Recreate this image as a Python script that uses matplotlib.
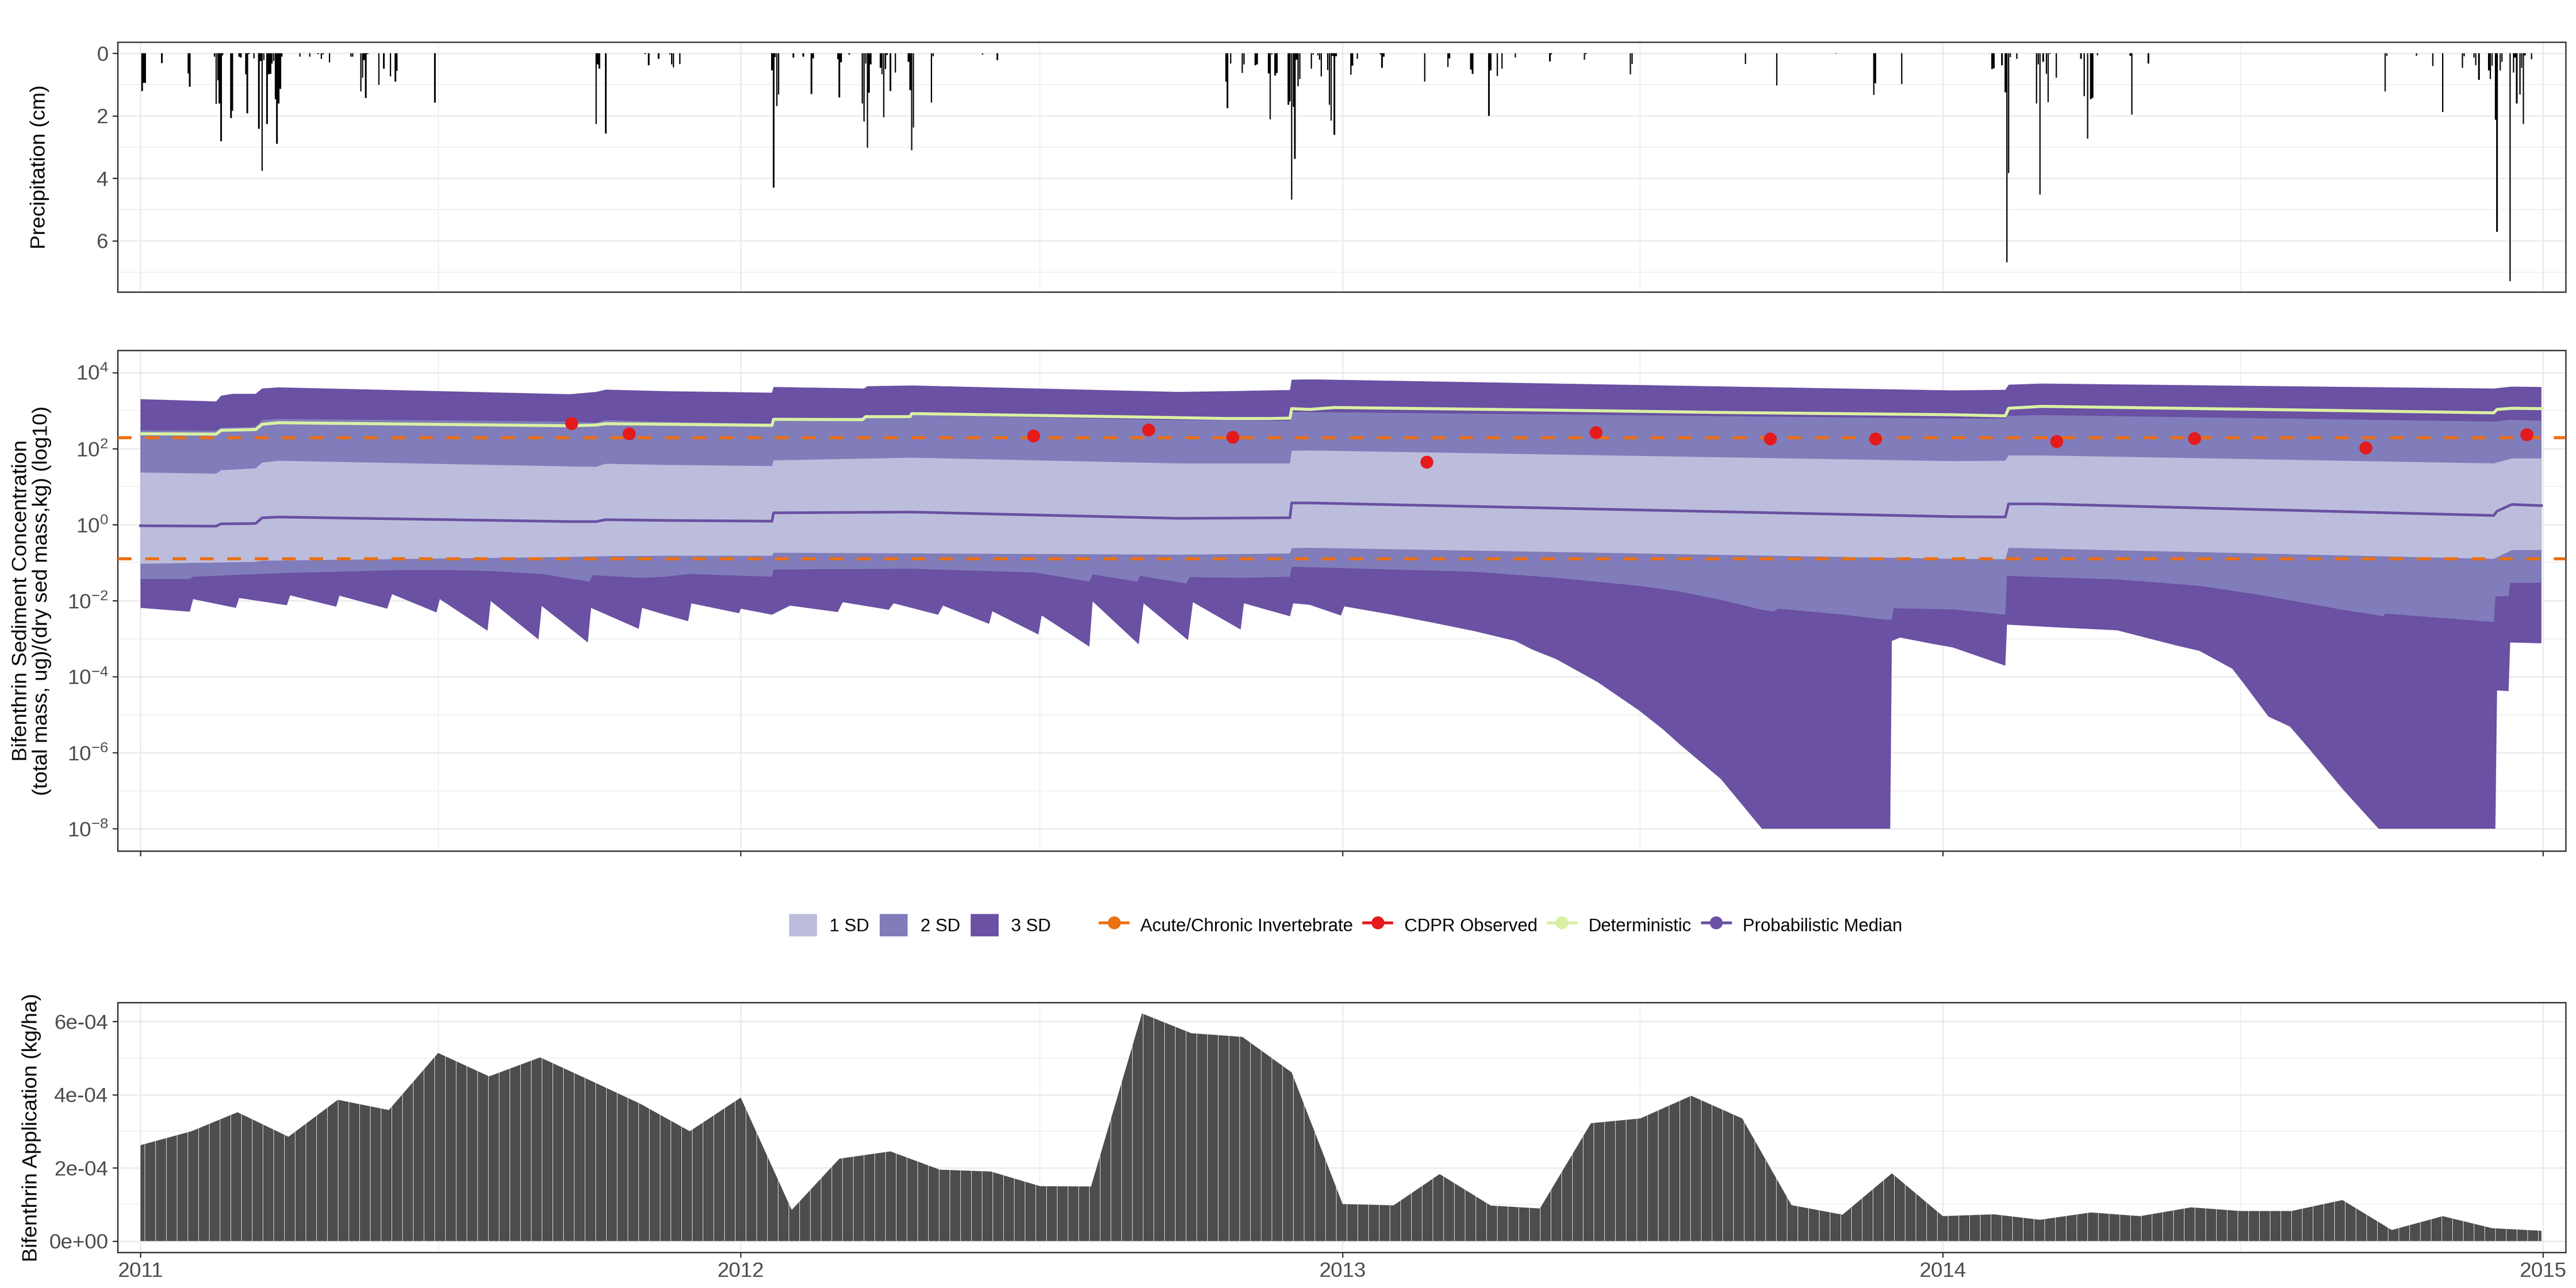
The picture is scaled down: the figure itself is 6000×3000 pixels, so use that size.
import numpy as np
import pandas as pd
import matplotlib
matplotlib.use('Agg')
import matplotlib.pyplot as plt
import matplotlib.dates as mdates
from matplotlib.lines import Line2D
from matplotlib.patches import Patch
from matplotlib.ticker import FixedLocator, FuncFormatter, NullFormatter

plt.rcParams['font.family'] = ['Liberation Sans', 'DejaVu Sans']
plt.rcParams['mathtext.default'] = 'regular'
plt.rcParams['hatch.linewidth'] = 0.25

START = pd.Timestamp('2011-01-01')

# ---- daily precipitation (day offset from 2011-01-01, cm) ----
precip_day = [1, 2, 3, 13, 29, 30, 45, 46, 47, 48, 49, 50, 55, 56, 60, 61, 64, 65, 66, 69,
              72, 73, 74, 75, 77, 78, 79, 80, 81, 82, 83, 84, 85, 86, 97, 103, 108, 110, 111,
              115, 128, 129, 134, 135, 136, 137, 138, 145, 148, 152, 155, 156, 179,
              277, 278, 279, 283, 307, 309, 315, 322, 323, 324, 328, 384, 385, 386, 387, 388,
              397, 403, 408, 409, 424, 425, 426, 431, 439, 440, 441, 442, 443, 444, 450, 451,
              452, 453, 454, 456, 459, 467, 468, 469, 470, 481, 482, 512, 521,
              660, 661, 663, 670, 671, 678, 679, 686, 687, 688, 690, 691, 698, 699, 700, 701,
              702, 703, 704, 705, 712, 713, 716, 717, 718, 722, 723, 724, 725, 726, 727, 736,
              737, 740, 754, 755, 756, 781, 795, 796, 809, 810, 820, 821, 825, 828, 836, 857,
              858, 878, 879,
              906, 907, 976, 995, 1031, 1054, 1055, 1071, 1126, 1127, 1132, 1134, 1135, 1136,
              1137, 1141, 1153, 1154, 1155, 1157, 1159, 1160, 1161, 1165, 1180, 1182, 1184,
              1186, 1187, 1190, 1210, 1211, 1221, 1365, 1366, 1384, 1394, 1400, 1412, 1413,
              1419, 1420, 1422, 1428, 1429, 1430, 1432, 1433, 1435, 1436, 1441, 1443, 1444,
              1445, 1447, 1448, 1449, 1450, 1454]
precip_cm = [1.20, 0.95, 0.95, 0.31, 0.64, 1.07, 0.11, 1.62, 0.86, 1.60, 2.82, 0.06, 2.07, 1.84,
             0.11, 0.14, 0.67, 1.92, 0.03, 0.16,
             2.42, 0.25, 3.76, 0.22, 2.27, 0.67, 0.66, 0.32, 0.25, 1.47, 2.90, 1.60, 1.14, 0.11,
             0.11, 0.11, 0.03, 0.17, 0.04,
             0.29, 0.10, 0.10, 1.22, 0.78, 0.22, 1.42, 0.03, 1.01, 0.49, 0.74, 0.91, 0.56, 1.57,
             2.26, 0.36, 0.49, 2.56, 0.03, 0.38, 0.18, 0.04, 0.35, 0.45, 0.34, 0.54, 4.30, 0.12,
             1.69, 1.32,
             0.14, 0.10, 1.30, 0.16, 0.19, 1.41, 0.28, 0.04, 1.60, 2.18, 0.33, 3.02, 1.26, 0.35,
             0.46, 0.67,
             2.04, 0.51, 0.05, 1.21, 0.62, 0.27, 1.18, 3.10, 2.38, 1.57, 0.09, 0.04, 0.22,
             0.91, 1.75, 0.32, 0.63, 0.35, 0.38, 0.35, 0.64, 2.11, 0.04, 0.71, 0.63, 1.65, 1.53,
             4.68, 1.71,
             3.38, 0.20, 1.05, 0.82, 0.49, 0.04, 0.06, 0.20, 0.74, 0.53, 1.65, 2.16, 0.08, 2.61,
             0.09, 0.68,
             0.39, 0.17, 0.04, 0.46, 0.11, 0.90, 0.43, 0.16, 0.52, 0.66, 2.00, 0.55, 0.72, 0.49,
             0.13, 0.26,
             0.04, 0.20, 0.03,
             0.67, 0.34, 0.34, 1.03, 0.01, 1.33, 0.96, 0.99, 0.50, 0.48, 0.38, 1.25, 6.69, 3.83,
             0.12, 0.18, 1.60, 0.35, 4.52, 0.27, 0.65, 1.56, 0.03, 0.78, 0.18, 1.37, 2.73,
             1.47, 1.43, 0.06, 0.08, 1.96, 0.33, 1.22, 0.08, 0.08, 0.41, 1.88, 0.47, 0.09,
             0.14, 0.38, 0.85, 0.55, 0.82, 0.40, 2.13, 5.72, 0.54, 0.27, 7.29, 0.61, 0.14,
             1.60, 1.32, 0.47, 2.26, 0.06, 0.19]

# ---- sediment concentration bands (day offset, log10 concentration) ----
sd3_upper_day = [0, 46, 49, 56, 70, 74, 84, 261, 277, 283, 319, 384, 385, 440, 442, 469, 631,
                 661, 699, 700, 712, 1102, 1134, 1136, 1156, 1431, 1442, 1460]
sd3_upper_log = [3.30, 3.24, 3.39, 3.44, 3.44, 3.58, 3.61, 3.43, 3.49, 3.55, 3.51, 3.47, 3.62,
                 3.58, 3.64, 3.66, 3.49, 3.51, 3.54, 3.81, 3.82, 3.53, 3.545, 3.68, 3.71, 3.58,
                 3.63, 3.62]
sd2_upper_day = [0, 46, 49, 70, 74, 84, 261, 277, 283, 319, 384, 385, 440, 469, 631, 699, 700,
                 711, 1102, 1134, 1136, 1156, 1431, 1442, 1460]
sd2_upper_log = [2.48, 2.47, 2.55, 2.57, 2.75, 2.78, 2.71, 2.68, 2.75, 2.70, 2.66, 2.79, 2.82,
                 2.88, 2.75, 2.73, 2.96, 2.96, 2.79, 2.79, 2.86, 2.88, 2.71, 2.76, 2.73]
sd1_upper_day = [0, 46, 49, 70, 74, 84, 261, 277, 283, 319, 384, 385, 469, 631, 699, 700, 711,
                 1102, 1134, 1136, 1156, 1431, 1442, 1460]
sd1_upper_log = [1.37, 1.34, 1.43, 1.48, 1.63, 1.68, 1.53, 1.52, 1.60, 1.57, 1.54, 1.69, 1.76,
                 1.61, 1.61, 1.94, 1.95, 1.67, 1.68, 1.82, 1.82, 1.61, 1.74, 1.74]
sd1_lower_day = [0, 70, 74, 261, 283, 319, 384, 385, 631, 699, 700, 711, 1102, 1134, 1136,
                 1431, 1442, 1460]
sd1_lower_log = [-1.03, -0.98, -0.95, -0.85, -0.83, -0.82, -0.82, -0.74, -0.79, -0.76, -0.62,
                 -0.61, -0.90, -0.91, -0.61, -0.90, -0.67, -0.67]
sd2_lower_day = [0, 30, 32, 60, 90, 120, 153, 182, 212, 244, 273, 275, 304, 319, 334, 384, 385,
                 469, 544, 577, 579, 606, 608, 636, 638, 669, 699, 700, 711, 811, 861, 911, 936,
                 961, 986, 993, 996, 1036, 1061, 1065, 1066, 1102, 1134, 1135, 1202, 1252, 1289,
                 1339, 1364, 1365, 1431, 1432, 1440, 1441, 1460]
sd2_lower_log = [-1.43, -1.43, -1.37, -1.32, -1.27, -1.24, -1.20, -1.19, -1.22, -1.30, -1.50,
                 -1.33, -1.40, -1.37, -1.30, -1.37, -1.18, -1.16, -1.26, -1.50, -1.31, -1.50,
                 -1.35, -1.55, -1.38, -1.40, -1.37, -1.11, -1.12, -1.24, -1.40, -1.61, -1.76,
                 -1.98, -2.24, -2.28, -2.21, -2.37, -2.50, -2.50, -2.20, -2.23, -2.37, -1.35,
                 -1.44, -1.61, -1.85, -2.24, -2.41, -2.34, -2.56, -1.89, -1.88, -1.53, -1.53]
sd3_lower_day = [0, 30, 32, 58, 60, 89, 91, 119, 121, 150, 153, 180, 182, 211, 213, 242, 244,
                 272, 274, 303, 305, 319, 333, 335, 364, 365, 384, 395, 424, 427, 455, 458, 485,
                 488, 516, 518, 546, 548, 577, 579, 607, 610, 637, 640, 669, 671, 699, 701, 711,
                 730, 732, 761, 786, 811, 836, 846, 861, 886, 911, 926, 936, 961, 986, 1064,
                 1065, 1070, 1089, 1102, 1134, 1135, 1164, 1202, 1219, 1239, 1252, 1272, 1279,
                 1294, 1307, 1319, 1339, 1361, 1432, 1433, 1440, 1441, 1460]
sd3_lower_log = [-2.19, -2.29, -1.96, -2.19, -1.93, -2.12, -1.86, -2.16, -1.87, -2.21, -1.83,
                 -2.31, -1.96, -2.79, -2.01, -3.02, -2.14, -3.10, -2.19, -2.74, -2.19, -2.37,
                 -2.54, -2.07, -2.33, -2.21, -2.37, -2.13, -2.30, -2.04, -2.24, -2.07, -2.37,
                 -2.13, -2.61, -2.28, -2.89, -2.39, -3.21, -2.02, -3.15, -2.07, -3.04, -2.04,
                 -2.76, -2.07, -2.41, -2.07, -2.11, -2.39, -2.15, -2.37, -2.58, -2.80, -3.06,
                 -3.28, -3.54, -4.14, -4.88, -5.39, -5.78, -6.69, -8.0, -8.0, -3.06, -2.97,
                 -3.13, -3.23, -3.71, -2.63, -2.70, -2.78, -2.97, -3.19, -3.32, -3.79, -4.18,
                 -5.05, -5.31, -5.91, -6.95, -8.0, -8.0, -4.36, -4.38, -3.10, -3.12]

median_day = [0, 46, 49, 70, 74, 84, 261, 277, 283, 319, 384, 385, 469, 631, 699, 700, 711,
              1102, 1134, 1136, 1156, 1431, 1433, 1442, 1460]
median_log = [-0.03, -0.04, 0.02, 0.03, 0.18, 0.20, 0.08, 0.08, 0.13, 0.11, 0.09, 0.31, 0.33,
              0.165, 0.18, 0.57, 0.57, 0.21, 0.20, 0.545, 0.545, 0.24, 0.355, 0.53, 0.50]
determ_day = [0, 46, 49, 70, 74, 84, 261, 277, 283, 319, 384, 385, 439, 441, 468, 469, 594,
              661, 686, 699, 700, 711, 726, 861, 961, 1102, 1134, 1136, 1156, 1289, 1431, 1433,
              1442, 1460]
determ_log = [2.39, 2.38, 2.48, 2.50, 2.64, 2.68, 2.60, 2.62, 2.655, 2.64, 2.61, 2.77, 2.76,
              2.84, 2.84, 2.92, 2.84, 2.79, 2.79, 2.80, 3.05, 3.03, 3.08, 3.01, 2.95, 2.89, 2.86,
              3.06, 3.11, 3.03, 2.94, 3.03, 3.06, 3.05]

obs_dates = ['2011-09-20', '2011-10-25', '2012-06-27', '2012-09-05', '2012-10-26',
             '2013-02-21', '2013-06-04', '2013-09-18', '2013-11-21', '2014-03-11',
             '2014-06-03', '2014-09-15', '2014-12-22']
obs_values = [462, 245, 219, 309, 200, 45, 269, 182, 182, 155, 186, 105, 234]

invert_thresholds = [195, 0.127]

# ---- monthly bifenthrin application (kg/ha) ----
app_dates = list(pd.date_range('2011-01-01', '2014-12-01', freq='MS')) + [pd.Timestamp('2014-12-31')]
app_kg_ha = [2.62, 3.00, 3.52, 2.85, 3.86, 3.58, 5.14, 4.50, 5.02, 4.40, 3.75, 3.00,
             3.92, 0.85, 2.25, 2.45, 1.95, 1.90, 1.50, 1.49, 6.22, 5.68, 5.58, 4.61,
             1.01, 0.975, 1.83, 0.97, 0.89, 3.22, 3.35, 3.97, 3.35, 0.98, 0.72, 1.85,
             0.68, 0.73, 0.58, 0.78, 0.68, 0.92, 0.82, 0.82, 1.12, 0.30, 0.68, 0.35, 0.28]
app_kg_ha = [v * 1e-4 for v in app_kg_ha]

C_SD1, C_SD2, C_SD3 = '#BCBDDC', '#807DBA', '#6A51A3'
C_DET, C_OBS, C_THR = '#D9F0A3', '#E41A1C', '#EC7014'
TICK_COL, BORDER_COL, GRID_COL = '#4D4D4D', '#333333', '#EBEBEB'


def days_to_num(days):
    return mdates.date2num(START + pd.to_timedelta(np.asarray(days, dtype=float), unit='D'))


def style_panel(ax):
    for s in ax.spines.values():
        s.set_color(BORDER_COL)
        s.set_linewidth(0.75)
    ax.grid(which='major', color=GRID_COL, linewidth=0.8)
    ax.grid(which='minor', color=GRID_COL, linewidth=0.4)
    ax.set_axisbelow(True)
    ax.tick_params(which='major', length=2.8, width=0.7, color=BORDER_COL,
                   labelsize=11.8, labelcolor=TICK_COL, pad=2.4)
    ax.tick_params(which='minor', length=0)
    ax.xaxis.set_major_locator(mdates.YearLocator())
    ax.xaxis.set_minor_locator(mdates.MonthLocator(bymonth=7))
    ax.xaxis.set_major_formatter(mdates.DateFormatter('%Y'))
    ax.set_xlim(mdates.date2num(pd.Timestamp('2010-12-18')),
                mdates.date2num(pd.Timestamp('2015-01-14 18:00')))


fig = plt.figure(figsize=(20, 10), dpi=300)
left, width = 0.0456, 0.9504
ax_p = fig.add_axes([left, 0.7733, width, 0.194])
ax_c = fig.add_axes([left, 0.3393, width, 0.3887])
ax_a = fig.add_axes([left, 0.02767, width, 0.194])

# precipitation
style_panel(ax_p)
ax_p.bar(days_to_num(precip_day), precip_cm, width=0.9, color='black', linewidth=0)
ax_p.set_ylim(7.64, -0.36)
ax_p.yaxis.set_major_locator(FixedLocator([0, 2, 4, 6]))
ax_p.yaxis.set_minor_locator(FixedLocator([1, 3, 5, 7]))
ax_p.tick_params(axis='x', which='both', length=0, labelbottom=False)
ax_p.set_ylabel('Precipitation (cm)', fontsize=11.8, va='center')
ax_p.yaxis.set_label_coords(-0.0317, 0.5)

# concentration
style_panel(ax_c)
ax_c.set_yscale('log')


def band(ax, up_day, up_log, lo_day, lo_log, color):
    xs = np.concatenate([days_to_num(up_day), days_to_num(lo_day)[::-1]])
    ys = np.concatenate([10 ** np.asarray(up_log), (10 ** np.asarray(lo_log))[::-1]])
    ax.fill(xs, ys, color=color, linewidth=0, zorder=1)


band(ax_c, sd3_upper_day, sd3_upper_log, sd3_lower_day, sd3_lower_log, C_SD3)
band(ax_c, sd2_upper_day, sd2_upper_log, sd2_lower_day, sd2_lower_log, C_SD2)
band(ax_c, sd1_upper_day, sd1_upper_log, sd1_lower_day, sd1_lower_log, C_SD1)
ax_c.plot(days_to_num(determ_day), 10 ** np.asarray(determ_log), color=C_DET, lw=1.7, zorder=3)
ax_c.plot(days_to_num(median_day), 10 ** np.asarray(median_log), color=C_SD3, lw=1.5, zorder=3)
for thr in invert_thresholds:
    ax_c.axhline(thr, color=C_THR, lw=1.7, dashes=(4.5, 4.5), zorder=4)
ax_c.plot(mdates.date2num(pd.to_datetime(obs_dates)), obs_values, 'o', color=C_OBS,
          markersize=7.2, markeredgewidth=0, zorder=5)
ax_c.set_ylim(10 ** -8.584, 10 ** 4.584)
ax_c.yaxis.set_major_locator(FixedLocator([10.0 ** k for k in range(-8, 5, 2)]))
ax_c.yaxis.set_minor_locator(FixedLocator([10.0 ** k for k in range(-7, 4, 2)]))
ax_c.yaxis.set_major_formatter(FuncFormatter(lambda v, _: r'$10^{%d}$' % round(np.log10(v))))
ax_c.yaxis.set_minor_formatter(NullFormatter())
ax_c.tick_params(axis='x', labelbottom=False)
ax_c.set_ylabel('Bifenthrin Sediment Concentration\n(total mass, ug)/(dry sed mass,kg) (log10)',
                fontsize=11.8, va='center', linespacing=1.1)
ax_c.yaxis.set_label_coords(-0.0351, 0.5)

# application
style_panel(ax_a)
ax_a.fill_between(mdates.date2num(app_dates), 0, app_kg_ha, facecolor='#4D4D4D',
                  edgecolor='white', hatch='||', linewidth=0, zorder=2)
ax_a.set_ylim(-0.31e-4, 6.52e-4)
ax_a.yaxis.set_major_locator(FixedLocator([0, 2e-4, 4e-4, 6e-4]))
ax_a.yaxis.set_minor_locator(FixedLocator([1e-4, 3e-4, 5e-4]))
ax_a.yaxis.set_major_formatter(FuncFormatter(lambda v, _: f'{v:.0e}'))
ax_a.set_ylabel('Bifenthrin Application (kg/ha)', fontsize=11.8, va='center')
ax_a.yaxis.set_label_coords(-0.0351, 0.5)

# legends
sd_handles = [Patch(facecolor=c, edgecolor='none', label=l)
              for c, l in [(C_SD1, '1 SD'), (C_SD2, '2 SD'), (C_SD3, '3 SD')]]
line_handles = [Line2D([], [], color=c, lw=1.6, marker='o', markersize=7.2,
                       markeredgewidth=0, label=l)
                for c, l in [(C_THR, 'Acute/Chronic Invertebrate'), (C_OBS, 'CDPR Observed'),
                             (C_DET, 'Deterministic'), (C_SD3, 'Probabilistic Median')]]
common = dict(ncol=4, frameon=False, fontsize=10, handlelength=1.56, handleheight=1.56,
              handletextpad=0.7, columnspacing=0.6, borderpad=0, borderaxespad=0,
              loc='center left')
fig.legend(handles=sd_handles, bbox_to_anchor=(0.3063, 0.2817), **common)
fig.legend(handles=line_handles, bbox_to_anchor=(0.427, 0.2817), **common)

fig.savefig('out.png', dpi=300, facecolor='white')
